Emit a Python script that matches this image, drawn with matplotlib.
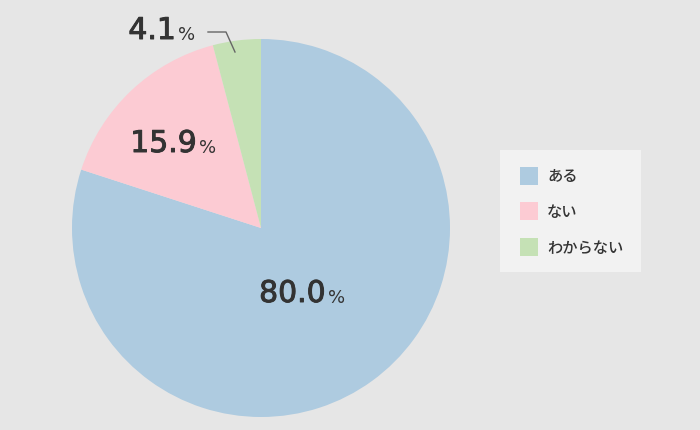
import matplotlib
matplotlib.use("Agg")
import matplotlib.pyplot as plt
from matplotlib.patches import Rectangle
import matplotlib.patheffects as pe

categories = ["ある", "ない", "わからない"]
values = [80.0, 15.9, 4.1]
colors = ["#aecbe0", "#fccbd3", "#c5e1b5"]
value_labels = ["80.0", "15.9", "4.1"]

W, H = 700, 431
fig = plt.figure(figsize=(7, 4.31), dpi=100)
fig.patch.set_facecolor("#e6e6e6")
ax = fig.add_axes([0, 0, 1, 1])

cx, cy, r = 261, H - 229, 189
ax.pie(values, colors=colors, startangle=90, counterclock=False,
       center=(cx, cy), radius=r, wedgeprops=dict(linewidth=0), frame=True)
ax.set_xlim(0, W)
ax.set_ylim(0, H)
ax.set_aspect("equal")
ax.axis("off")

fam = ["Noto Sans CJK JP", "DejaVu Sans"]
numfam = ["DejaVu Sans"]
tc = "#333333"
stroke = [pe.withStroke(linewidth=0.7, foreground=tc)]
# label positions (right edge of number, baseline) in pixel coords
label_pos = [(326, 303), (197, 153), (176, 40)]
for lab, (x, y) in zip(value_labels, label_pos):
    ax.text(x, H - y, lab, ha="right", va="baseline", fontsize=21.5,
            family=numfam, weight="normal", color=tc, path_effects=stroke)
    ax.text(x + 2, H - y, "%", ha="left", va="baseline", fontsize=13,
            family=numfam, weight="normal", color=tc)

# leader line for small slice
ax.plot([208, 226, 235], [H - 33, H - 33, H - 53], color="#666666", lw=1)

# legend box
ax.add_patch(Rectangle((500, H - 273), 141, 122, facecolor="#f2f2f2",
                       edgecolor="none"))
ys = [177, 212, 248]
for cat, col, y in zip(categories, colors, ys):
    ax.add_patch(Rectangle((520, H - y - 9), 18, 18, facecolor=col,
                           edgecolor="none"))
    ax.text(547, H - y, cat, ha="left", va="center", fontsize=11,
            family=fam, weight="medium", color=tc)

fig.savefig("out.png", dpi=100, facecolor=fig.get_facecolor())
